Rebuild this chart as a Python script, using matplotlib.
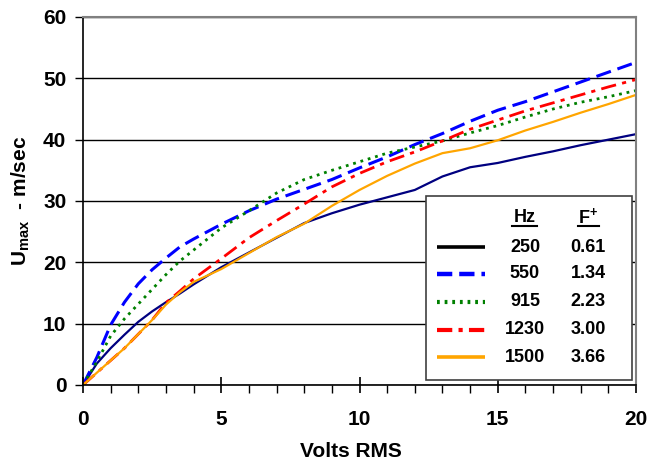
import numpy as np
import matplotlib
matplotlib.use('Agg')
from matplotlib import pyplot as plt
from matplotlib.patches import Rectangle
from matplotlib.ticker import MultipleLocator

plt.rcParams['font.family'] = 'Liberation Sans'
plt.rcParams['font.weight'] = 'bold'
plt.rcParams['mathtext.fontset'] = 'custom'
plt.rcParams['mathtext.rm'] = 'Liberation Sans:bold'
plt.rcParams['mathtext.bf'] = 'Liberation Sans:bold'
plt.rcParams['lines.scale_dashes'] = False

# ---- data ----
volts = [0, 0.5, 1, 1.5, 2, 2.5, 3, 3.5, 4, 5, 6, 7, 8, 9, 10, 11, 12, 13, 14, 15, 16, 17, 18, 19, 20]
u_250 = [0, 3.5, 6.0, 8.2, 10.3, 12.0, 13.5, 14.9, 16.4, 19.2, 21.6, 24.0, 26.4, 28.0, 29.4, 30.6, 31.8, 34.0, 35.5, 36.2, 37.2, 38.1, 39.1, 40.0, 40.9]
u_550 = [0, 4.5, 9.8, 13.5, 16.5, 18.8, 20.7, 22.5, 23.8, 26.2, 28.4, 30.3, 31.9, 33.5, 35.4, 37.2, 39.2, 41.0, 43.0, 44.8, 46.2, 47.8, 49.4, 51.0, 52.6]
u_915 = [0, 3.8, 8.0, 10.8, 13.2, 15.6, 18.0, 20.2, 22.0, 25.6, 28.4, 31.3, 33.5, 35.0, 36.4, 37.8, 38.8, 39.8, 41.1, 42.3, 43.7, 45.0, 46.1, 47.0, 48.0]
u_1230 = [0, 2.0, 4.0, 6.0, 8.3, 10.6, 13.4, 15.3, 17.3, 20.6, 24.0, 26.8, 29.5, 32.3, 34.5, 36.4, 38.0, 39.8, 41.7, 43.2, 44.7, 46.0, 47.3, 48.6, 49.8]
u_1500 = [0, 2.0, 4.0, 6.0, 8.3, 10.6, 13.1, 15.1, 16.8, 18.9, 21.5, 24.1, 26.3, 29.2, 31.8, 34.1, 36.1, 37.8, 38.6, 39.9, 41.5, 42.9, 44.4, 45.8, 47.3]

hz_labels = ['250', '550', '915', '1230', '1500']
fplus_labels = ['0.61', '1.34', '2.23', '3.00', '3.66']

series = [u_250, u_550, u_915, u_1230, u_1500]
colors = ['#000080', '#0000FF', '#008000', '#FF0000', '#FFA500']
legend_colors = ['#000000', '#0000FF', '#008000', '#FF0000', '#FFA500']
styles = [dict(lw=1.6), dict(lw=2.2, dashes=(11, 5)), dict(lw=2.0, dashes=(2, 3.5)),
          dict(lw=2.0, dashes=(11, 4.5, 3, 4.5)), dict(lw=1.6)]

fig = plt.figure(figsize=(6.49, 4.63), dpi=100)
W, H = 649, 463
L, R, T, B = 83, 636, 17, 385
ax = fig.add_axes([L / W, 1 - B / H, (R - L) / W, (B - T) / H])

for y, c, st in zip(series, colors, styles):
    ax.plot(volts, y, color=c, solid_capstyle='butt', dash_capstyle='butt', **st)

ax.set_xlim(0, 20)
ax.set_ylim(0, 60)
ax.xaxis.set_major_locator(MultipleLocator(5))
ax.xaxis.set_minor_locator(MultipleLocator(1))
ax.yaxis.set_major_locator(MultipleLocator(10))
ax.grid(axis='y', color='black', lw=1)
ax.set_axisbelow(True)
ax.tick_params(axis='x', which='major', direction='inout', length=12, width=1.2, pad=12, labelsize=15)
ax.tick_params(axis='x', which='minor', direction='out', length=6, width=1)
ax.tick_params(axis='y', direction='out', length=6, width=1, pad=6, labelsize=15)
for s in ['top', 'right']:
    ax.spines[s].set_color('#808080')
    ax.spines[s].set_linewidth(1.5)
for s in ['left', 'bottom']:
    ax.spines[s].set_linewidth(1.2)

ax.set_xlabel('Volts RMS', fontsize=15, fontweight='bold')
ax.xaxis.set_label_coords(0.485, -0.155)
ax.set_ylabel(r'U$_{\rm max}$  - m/sec', fontsize=15, fontweight='bold', labelpad=8)


# ---- hand-made legend table (pixel positions -> axes fraction) ----
def px(x, y):
    return (x - L) / (R - L), (B - y) / (B - T)


x0, y0 = px(426, 380)
x1, y1 = px(632, 196)
ax.add_patch(Rectangle((x0, y0), x1 - x0, y1 - y0, transform=ax.transAxes,
                       facecolor='white', edgecolor='#404040', lw=1.2, zorder=5))

hx, hy = px(525, 217)
fx, _ = px(588, 217)
ax.text(hx, hy, 'Hz', transform=ax.transAxes, ha='center', va='center', fontsize=13, zorder=6)
ax.text(fx, hy, r'F$^{+}$', transform=ax.transAxes, ha='center', va='center', fontsize=13, zorder=6)
for a, b in [(512, 537), (578, 599)]:
    ua, uy = px(a, 226)
    ub, _ = px(b, 226)
    ax.plot([ua, ub], [uy, uy], transform=ax.transAxes, color='black', lw=1.5, zorder=6)

rows = [247, 274, 302, 330, 357]
for ry, c, st, hz, fp in zip(rows, legend_colors, styles, hz_labels, fplus_labels):
    la, ly = px(437, ry)
    lb, _ = px(485, ry)
    st2 = dict(st)
    st2['lw'] = st['lw'] + 1.0
    ax.plot([la, lb], [ly, ly], transform=ax.transAxes, color=c, zorder=6,
            solid_capstyle='butt', dash_capstyle='butt', **st2)
    ax.text(hx, ly, hz, transform=ax.transAxes, ha='center', va='center', fontsize=13, zorder=6)
    ax.text(fx, ly, fp, transform=ax.transAxes, ha='center', va='center', fontsize=13, zorder=6)

fig.savefig('out.png', dpi=100)
